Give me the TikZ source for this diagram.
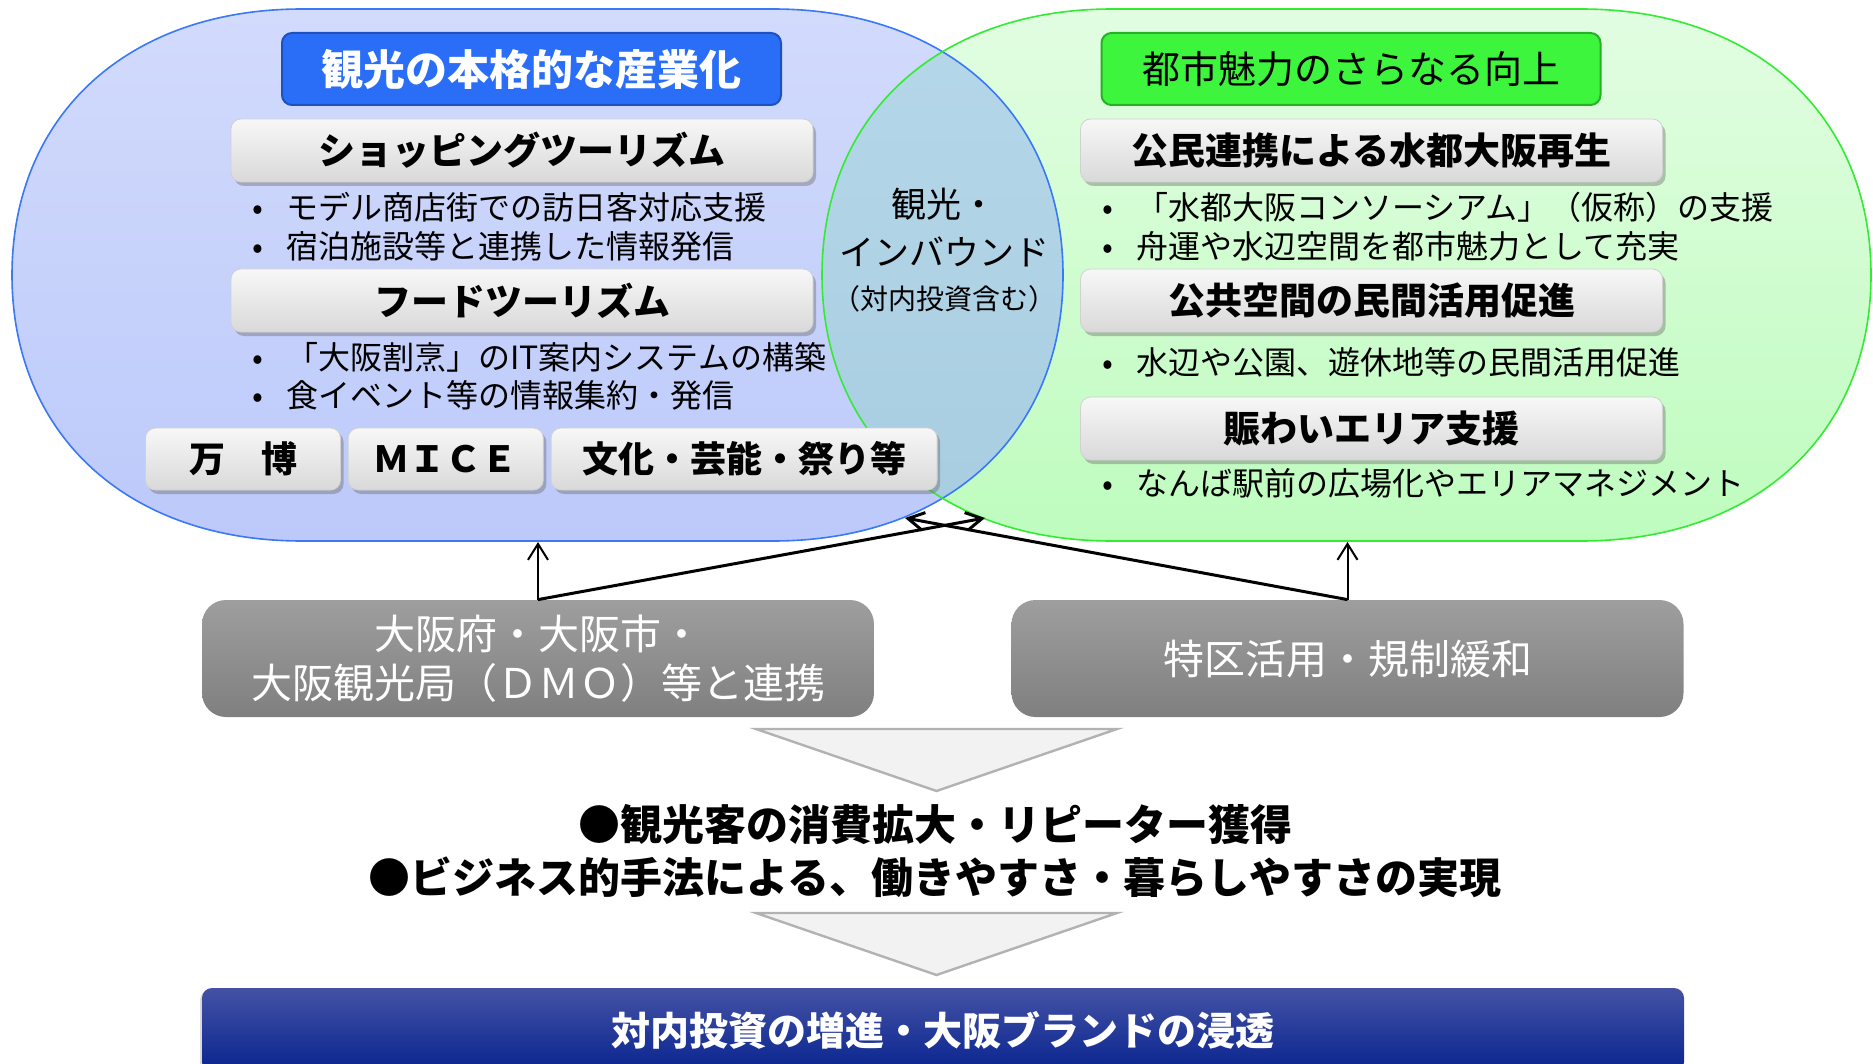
\documentclass[tikz,border=0pt]{standalone}
\usepackage{fontspec}
\setmainfont{Noto Sans CJK JP}
\usepackage{tikz}
\usetikzlibrary{positioning,arrows.meta,shadows}

\definecolor{blueTop}{RGB}{210,219,252}
\definecolor{blueBot}{RGB}{188,201,250}
\definecolor{greenTop}{RGB}{226,253,226}
\definecolor{greenBot}{RGB}{190,252,190}
\definecolor{mixTop}{RGB}{182,215,234}
\definecolor{mixBot}{RGB}{168,205,224}
\definecolor{blueLine}{RGB}{58,120,245}
\definecolor{greenLine}{RGB}{50,235,50}
\definecolor{titleBlue}{RGB}{42,110,248}
\definecolor{titleBlueLine}{RGB}{30,80,190}
\definecolor{titleGreen}{RGB}{60,245,60}
\definecolor{titleGreenLine}{RGB}{40,175,40}
\definecolor{navyTop}{RGB}{68,82,164}
\definecolor{navyMid}{RGB}{14,44,154}
\definecolor{navyBot}{RGB}{8,36,144}

\tikzstyle{wbox} = [draw=black!18, rounded corners=5pt, top color=black!3, bottom color=black!15,
                    minimum width=291pt, minimum height=31.5pt, inner sep=0pt,
                    font=\bfseries\fontsize{18.5}{20}\selectfont,
                    drop shadow={shadow xshift=1.5pt, shadow yshift=-2pt, fill=black!60, opacity=.4}]
\tikzstyle{gbox} = [rounded corners=12pt, top color=black!38, bottom color=black!50, text=white,
                    minimum width=336pt, minimum height=58.5pt, align=center,
                    font=\fontsize{20.5}{24.5}\selectfont]
\tikzstyle{arrow}      = [line width=1pt, -{Straight Barb[length=8pt,width=10pt]}]
\tikzstyle{crossarrow} = [line width=1.5pt, -{Straight Barb[length=8pt,width=9pt]}]

\newcommand{\itemdot}{\makebox[17pt][l]{•}}

\begin{document}
\begin{tikzpicture}[x=0.5pt, y=-0.5pt,
    leftlobe/.style={insert path={(12,275) .. controls (12,115) and (128,9) .. (302,9) -- (773,9)
        .. controls (947,9) and (1063,115) .. (1063,275) .. controls (1063,435) and (947,541) .. (773,541)
        -- (302,541) .. controls (128,541) and (12,435) .. (12,275) -- cycle}},
    rightlobe/.style={insert path={(822,275) .. controls (822,115) and (938,9) .. (1112,9) -- (1581,9)
        .. controls (1755,9) and (1871,115) .. (1871,275) .. controls (1871,435) and (1755,541) .. (1581,541)
        -- (1112,541) .. controls (938,541) and (822,435) .. (822,275) -- cycle}},
    titleL/.style={draw=titleBlueLine, fill=titleBlue, line width=1pt, rounded corners=5pt,
        minimum width=249.5pt, minimum height=36pt, text=white, font=\bfseries\fontsize{21}{24}\selectfont},
    titleR/.style={draw=titleGreenLine, fill=titleGreen, line width=1pt, rounded corners=5pt,
        minimum width=249.5pt, minimum height=36pt, font=\fontsize{19}{22}\selectfont},
    sbox/.style={wbox, minimum width=97.5pt, minimum height=31pt, font=\bfseries\fontsize{18}{20}\selectfont},
    bul/.style={anchor=west, inner sep=0pt, font=\fontsize{16}{19}\selectfont},
    chevron/.style={fill=black!5, draw=black!30, line width=1.2pt, line join=miter},
    banner/.style={rounded corners=5pt, top color=navyTop, middle color=navyMid, bottom color=navyBot,
        minimum width=741pt, minimum height=42pt, text=white, font=\bfseries\fontsize{19.5}{22}\selectfont,
        drop shadow={shadow xshift=-1pt, shadow yshift=-1pt, fill=black!50, opacity=.3}}
  ]
  \useasboundingbox (0,0) rectangle (1873,1064);

  % two overlapping fields
  \shade[top color=blueTop, bottom color=blueBot, leftlobe];
  \shade[top color=greenTop, bottom color=greenBot, rightlobe];
  \begin{scope}
    \clip[leftlobe];
    \shade[top color=mixTop, bottom color=mixBot, rightlobe];
  \end{scope}
  \draw[blueLine, line width=0.8pt, leftlobe];
  \draw[greenLine, line width=0.8pt, rightlobe];

  % left field
  \node[titleL] (tourism) at (531.5,69) {観光の本格的な産業化};
  \node[wbox] (shopping) at (522,150.5) {ショッピングツーリズム};
  \node[bul] (shop1) at (252,207) {\itemdot モデル商店街での訪日客対応支援};
  \node[bul] (shop2) at (252,246) {\itemdot 宿泊施設等と連携した情報発信};
  \node[wbox] (food) at (522,300.5) {フードツーリズム};
  \node[bul] (food1) at (252,357) {\itemdot 「大阪割烹」のIT案内システムの構築};
  \node[bul] (food2) at (252,395) {\itemdot 食イベント等の情報集約・発信};
  \node[sbox] (expo) at (243,459) {万　博};
  \node[sbox, right=3.5pt of expo] (mice) {ＭＩＣＥ};
  \node[sbox, right=3.5pt of mice, minimum width=193pt] (culture) {文化・芸能・祭り等};

  % right field
  \node[titleR] (citycharm) at (1351,69) {都市魅力のさらなる向上};
  \node[wbox] (waterfront) at (1371.5,150.5) {公民連携による水都大阪再生};
  \node[bul] (water1) at (1102,207) {\itemdot 「水都大阪コンソーシアム」（仮称）の支援};
  \node[bul] (water2) at (1102,246) {\itemdot 舟運や水辺空間を都市魅力として充実};
  \node[wbox] (publicspace) at (1371.5,300.5) {公共空間の民間活用促進};
  \node[bul] (space1) at (1102,362) {\itemdot 水辺や公園、遊休地等の民間活用促進};
  \node[wbox] (bustle) at (1371.5,428.5) {賑わいエリア支援};
  \node[bul] (bustle1) at (1102,483) {\itemdot なんば駅前の広場化やエリアマネジメント};

  % overlap
  \node[align=center, font=\fontsize{17.5}{24}\selectfont] (inbound) at (944,228) {観光・\\インバウンド};
  \node[font=\fontsize{14}{16}\selectfont] (inboundnote) at (944,299) {（対内投資含む）};

  % drivers
  \node[gbox] (partners) at (538,658.5) {大阪府・大阪市・\\大阪観光局（ＤＭＯ）等と連携};
  \node[gbox] (deregulation) at (1347.5,658.5) {特区活用・規制緩和};

  \coordinate (lobeLbot) at (538,542);
  \coordinate (lobeRbot) at (1347.5,542);
  \coordinate (lobeLedge) at (905,518);
  \coordinate (lobeRedge) at (985,518);
  \draw[arrow] (partners.north) -- (lobeLbot);
  \draw[arrow] (deregulation.north) -- (lobeRbot);
  \draw[crossarrow] (partners.north) -- (lobeRedge);
  \draw[crossarrow] (deregulation.north) -- (lobeLedge);

  % outcome
  \filldraw[chevron] (756,729) -- (1117,729) -- (936.5,791) -- cycle;
  \node[align=center, font=\bfseries\fontsize{21}{26.5}\selectfont] (effects) at (935,851)
    {●観光客の消費拡大・リピーター獲得\\●ビジネス的手法による、働きやすさ・暮らしやすさの実現};
  \filldraw[chevron] (756,913) -- (1117,913) -- (936.5,975) -- cycle;
  \node[banner] (brand) at (943,1030) {対内投資の増進・大阪ブランドの浸透};
\end{tikzpicture}
\end{document}
